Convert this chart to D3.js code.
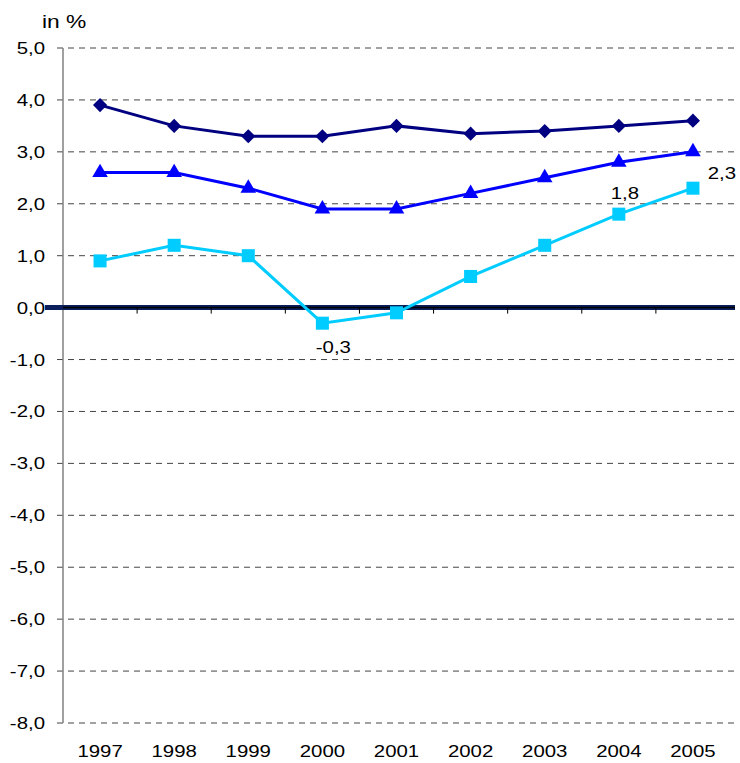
<!DOCTYPE html>
<html>
<head>
<meta charset="utf-8">
<script src="https://cdn.jsdelivr.net/npm/d3@7"></script>
<style>
  body { margin: 0; background: #fff; }
  svg { display: block; font-family: "Liberation Sans", Arial, sans-serif; }
</style>
</head>
<body>
<div id="chart"></div>
<script>
// Daten
const years = ["1997", "1998", "1999", "2000", "2001", "2002", "2003", "2004", "2005"];
const seriesNavy = [3.9, 3.5, 3.3, 3.3, 3.5, 3.35, 3.4, 3.5, 3.6];
const seriesBlue = [2.6, 2.6, 2.3, 1.9, 1.9, 2.2, 2.5, 2.8, 3.0];
const seriesCyan = [0.9, 1.2, 1.0, -0.3, -0.1, 0.6, 1.2, 1.8, 2.3];
const yTicks = [5, 4, 3, 2, 1, 0, -1, -2, -3, -4, -5, -6, -7, -8];
const cyanLabels = [
    { i: 3, text: "-0,3", dx: 11, dy: 30 },
    { i: 7, text: "1,8", dx: 6, dy: -15 },
    { i: 8, text: "2,3", dx: 29, dy: -9 }
];

const width = 740, height = 763;
const margin = { top: 48, right: 10, bottom: 40, left: 63 };
const stretch = 1.2; // Schrift im Original horizontal gestreckt

const svg = d3.select("#chart").append("svg")
    .attr("width", width)
    .attr("height", height);

const x = d3.scaleBand()
    .domain(years)
    .range([margin.left, width - margin.right]);

const y = d3.scaleLinear()
    .domain([-8, 5])
    .range([height - margin.bottom, margin.top]);

const cx = d => x(d) + x.bandwidth() / 2;

// Text mit Streckung
function addText(parent, px, py, txt, anchor, size) {
    return parent.append("text")
        .attr("transform", `translate(${px},${py}) scale(${stretch},1)`)
        .attr("text-anchor", anchor)
        .attr("font-size", size + "px")
        .attr("fill", "#000")
        .text(txt);
}

// Gitterlinien
svg.append("g")
    .selectAll("line")
    .data(yTicks.filter(t => t !== 0))
    .enter()
    .append("line")
    .attr("x1", margin.left - 6)
    .attr("x2", width - 5)
    .attr("y1", d => y(d))
    .attr("y2", d => y(d))
    .attr("stroke", "#444")
    .attr("stroke-width", 1)
    .attr("stroke-dasharray", "6,5");

// Y-Achse
svg.append("line")
    .attr("x1", margin.left).attr("x2", margin.left)
    .attr("y1", y(5)).attr("y2", y(-8))
    .attr("stroke", "#808080")
    .attr("stroke-width", 1.5);

const yLab = svg.append("g");
yTicks.forEach(t => {
    const s = d3.format(".1f")(t).replace(".", ",").replace("−", "-");
    addText(yLab, margin.left - 18, y(t) + 6, s, "end", 17);
});

// Null-Linie
svg.append("line")
    .attr("x1", 45).attr("x2", width - 5)
    .attr("y1", y(0)).attr("y2", y(0))
    .attr("stroke", "#0a1f5c")
    .attr("stroke-width", 5);
svg.append("line")
    .attr("x1", margin.left).attr("x2", width - 5)
    .attr("y1", y(0)).attr("y2", y(0))
    .attr("stroke", "#000")
    .attr("stroke-width", 1.5);

// X-Achsen-Ticks auf der Null-Linie
svg.append("g")
    .selectAll("line")
    .data(years.slice(1))
    .enter()
    .append("line")
    .attr("x1", d => x(d)).attr("x2", d => x(d))
    .attr("y1", y(0)).attr("y2", y(0) + 6)
    .attr("stroke", "#000");

// X-Beschriftung
const xLab = svg.append("g");
years.forEach(yr => addText(xLab, cx(yr), 757, yr, "middle", 17));

// Linien
const line = d3.line()
    .x((d, i) => cx(years[i]))
    .y(d => y(d));

function drawSeries(values, color, symbolType, size, rotate) {
    svg.append("path")
        .datum(values)
        .attr("fill", "none")
        .attr("stroke", color)
        .attr("stroke-width", 3)
        .attr("d", line);
    svg.append("g")
        .selectAll("path")
        .data(values)
        .enter()
        .append("path")
        .attr("transform", (d, i) => `translate(${cx(years[i])},${y(d)}) rotate(${rotate})`)
        .attr("d", d3.symbol().type(symbolType).size(size))
        .attr("fill", color);
}

drawSeries(seriesNavy, "#000080", d3.symbolSquare, 100, 45);
drawSeries(seriesBlue, "#0000ff", d3.symbolTriangle, 105, 0);
drawSeries(seriesCyan, "#00ccff", d3.symbolSquare, 170, 0);

// Datenbeschriftungen
const lab = svg.append("g");
cyanLabels.forEach(l => {
    addText(lab, cx(years[l.i]) + l.dx, y(seriesCyan[l.i]) + l.dy, l.text, "middle", 17);
});

// Einheit
addText(svg, 42, 28, "in %", "start", 19);
</script>
</body>
</html>
